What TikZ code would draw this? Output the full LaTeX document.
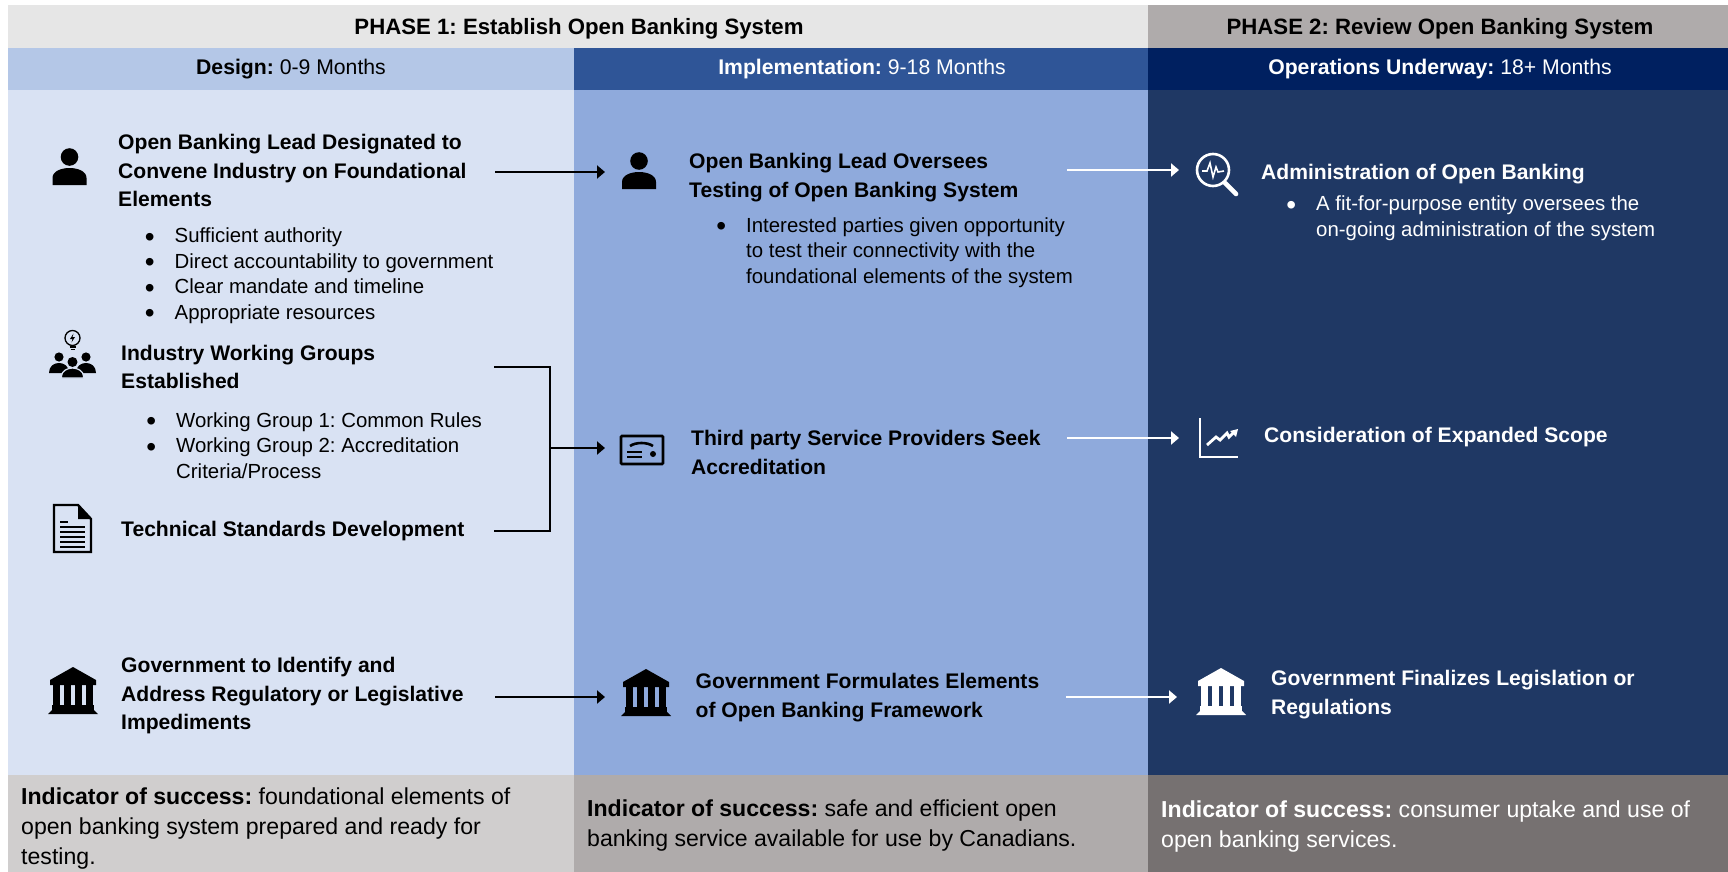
\documentclass[tikz,border=0pt]{standalone}
\usepackage{fontspec}
\setmainfont{Liberation Sans}
\usetikzlibrary{arrows.meta}
\definecolor{phaseone}{HTML}{E6E6E6}
\definecolor{phasetwo}{HTML}{AFABAB}
\definecolor{designhead}{HTML}{B4C7E7}
\definecolor{implhead}{HTML}{2F5597}
\definecolor{opshead}{HTML}{002060}
\definecolor{designbody}{HTML}{D9E2F3}
\definecolor{implbody}{HTML}{8FAADC}
\definecolor{opsbody}{HTML}{1F3864}
\definecolor{designfoot}{HTML}{D0CECE}
\definecolor{implfoot}{HTML}{AFABAB}
\definecolor{opsfoot}{HTML}{767171}
\frenchspacing
\newcommand{\itemdot}{\llap{\raisebox{-3.5pt}{\fontsize{28}{28}\selectfont\textbullet}\hspace{20pt}}}
\tikzset{
    phasetext/.style={anchor=base, inner sep=0pt, font=\fontsize{22.2}{25}\selectfont\bfseries},
    stagetext/.style={anchor=base, inner sep=0pt, font=\fontsize{21.2}{23}\selectfont},
    headtext/.style={anchor=base west, inner sep=0pt, align=left, font=\fontsize{21.1}{28.5}\selectfont\bfseries},
    listtext/.style={anchor=base west, inner sep=0pt, align=left, font=\fontsize{20.4}{25.5}\selectfont},
    foottext/.style={anchor=base west, inner sep=0pt, align=left, font=\fontsize{23.1}{30}\selectfont},
    iconspot/.style={minimum width=#1, minimum height=4pt, inner sep=0pt, outer sep=0pt},
    blackarrow/.style={draw=black, line width=2.6pt, -{Triangle[length=8pt,width=13pt]}},
    whitearrow/.style={draw=white, line width=2.6pt, -{Triangle[length=8pt,width=13pt]}},
    personicon/.pic={
        \fill (0,9) circle (8.8);
        \fill (-17,37) -- (-17,30) .. controls (-17,23) and (-8,20) .. (0,20)
            .. controls (8,20) and (17,23) .. (17,30) -- (17,37) -- cycle;
    },
    bankicon/.pic={
        \fill (0,0) -- (23,13) -- (23,18) -- (-23,18) -- (-23,13) -- cycle;
        \foreach \cx in {-16.5,-5.5,5.5,16.5} {
            \fill (\cx-3.6,18) rectangle (\cx+3.6,39);
        }
        \fill (-21,38) rectangle (21,43);
        \fill (-25,47) -- (-21,43) -- (21,43) -- (25,47) -- cycle;
    },
    groupicon/.pic={
        \draw[line width=1.3pt] (0,8) circle (7.5);
        \draw[line width=1.3pt] (-3,17) -- (3,17) (-2,19.5) -- (2,19.5);
        \fill (1,3.5) -- (-2.5,9) -- (0,9) -- (-1,12.5) -- (2.5,7) -- (0,7) -- cycle;
        \foreach \sx in {-13.5,13.5} {
            \fill (\sx,27) circle (4.6);
            \fill (\sx-10,43) .. controls (\sx-10,36) and (\sx-5,33) .. (\sx,33)
                .. controls (\sx+5,33) and (\sx+10,36) .. (\sx+10,43) -- cycle;
        }
        \fill (0,32) circle (5);
        \filldraw[draw=designbody, line width=1.2pt] (-11,48) -- (-11,46) .. controls (-11,41) and (-5,38) .. (0,38)
            .. controls (5,38) and (11,41) .. (11,46) -- (11,48) -- cycle;
    },
    docicon/.pic={
        \draw[line width=2.4pt] (0,0) -- (24,0) -- (37,14) -- (37,47) -- (0,47) -- cycle;
        \fill (24,0) -- (37,14) -- (24,14) -- cycle;
        \draw[line width=1.6pt] (6,17) -- (14,17);
        \foreach \ly in {22,27,32,37,42} {
            \draw[line width=1.6pt] (6,\ly) -- (31,\ly);
        }
    },
    certicon/.pic={
        \draw[line width=2.8pt, rounded corners=1pt] (0,0) rectangle (42,28);
        \draw[line width=2.6pt] (9,10) .. controls (15,6) and (26,6) .. (32,10);
        \draw[line width=2pt] (6,16) -- (21,16) (6,20.5) -- (21,20.5);
        \fill (32,18) circle (3);
    },
    magicon/.pic={
        \draw[line width=2.6pt] (0,0) circle (16);
        \draw[line width=1.6pt] (-11,1) -- (-6,1) -- (-3,-7) -- (0,7) -- (3,-3) -- (5,2) -- (11,1);
        \draw[line width=4.6pt, line cap=round] (12,13) -- (23,24);
    },
    charticon/.pic={
        \draw[line width=2.6pt] (0,0) -- (0,39) -- (38,39);
        \draw[line width=2.8pt] (7,27) -- (16,19) -- (20,22) -- (27,15) -- (29,19) -- (34,14);
        \fill (38,11) -- (36,19) -- (30,13) -- cycle;
    },
}
\begin{document}
\begin{tikzpicture}[x=1pt, y=-1pt]
    \useasboundingbox (0,0) rectangle (1728,872);
    % bands
    \fill[phaseone] (8,5) rectangle (1148,48);
    \fill[phasetwo] (1148,5) rectangle (1728,48);
    \fill[designhead] (8,48) rectangle (574,90);
    \fill[implhead] (574,48) rectangle (1148,90);
    \fill[opshead] (1148,48) rectangle (1728,90);
    \fill[designbody] (8,90) rectangle (574,775);
    \fill[implbody] (574,90) rectangle (1148,775);
    \fill[opsbody] (1148,90) rectangle (1728,775);
    \fill[designfoot] (8,775) rectangle (574,872);
    \fill[implfoot] (574,775) rectangle (1148,872);
    \fill[opsfoot] (1148,775) rectangle (1728,872);
    % headers
    \node[phasetext] (phase1) at (579,35) {PHASE 1: Establish Open Banking System};
    \node[phasetext] (phase2) at (1440,35) {PHASE 2: Review Open Banking System};
    \node[stagetext] (design) at (291,75) {\textbf{Design:} 0-9 Months};
    \node[stagetext, text=white] (impl) at (862,75) {\textbf{Implementation:} 9-18 Months};
    \node[stagetext, text=white] (ops) at (1440,75) {\textbf{Operations Underway:} 18+ Months};
    % design column
    \node[headtext] (leaddesign) at (118,206.5) {Open Banking Lead Designated to\\Convene Industry on Foundational\\Elements};
    \node[listtext] (leadlist) at (174.5,319) {\itemdot Sufficient authority\\\itemdot Direct accountability to government\\\itemdot Clear mandate and timeline\\\itemdot Appropriate resources};
    \node[headtext] (groups) at (121,388.5) {Industry Working Groups\\Established};
    \node[listtext] (grouplist) at (176,478) {\itemdot Working Group 1: Common Rules\\\itemdot Working Group 2: Accreditation\\Criteria/Process};
    \node[headtext] (standards) at (121,536) {Technical Standards Development};
    \node[headtext] (govdesign) at (121,729.5) {Government to Identify and\\Address Regulatory or Legislative\\Impediments};
    \pic at (69.5,148) {personicon};
    \pic at (72.5,330) {groupicon};
    \pic at (54,505) {docicon};
    \pic at (73,667) {bankicon};
    % implementation column
    \node[headtext] (leadimpl) at (689,197) {Open Banking Lead Oversees\\Testing of Open Banking System};
    \node[listtext] (impllist) at (746,283) {\itemdot Interested parties given opportunity\\to test their connectivity with the\\foundational elements of the system};
    \node[headtext] (thirdparty) at (691,474) {Third party Service Providers Seek\\Accreditation};
    \node[headtext] (govimpl) at (695.5,717) {Government Formulates Elements\\of Open Banking Framework};
    \node[iconspot=68] (leadicon) at (639,172) {};
    \node[iconspot=74] (certspot) at (642,448) {};
    \node[iconspot=82] (govicon) at (646,697) {};
    \pic at (639,152) {personicon};
    \pic at (621,436) {certicon};
    \pic at (646,669) {bankicon};
    % operations column
    \node[headtext, text=white] (admin) at (1261,179) {Administration of Open Banking};
    \node[listtext, text=white] (adminlist) at (1316,236) {\itemdot A fit-for-purpose entity oversees the\\on-going administration of the system};
    \node[headtext, text=white] (scope) at (1264,442) {Consideration of Expanded Scope};
    \node[headtext, text=white] (govops) at (1271,714) {Government Finalizes Legislation or\\Regulations};
    \node[iconspot=76] (magspot) at (1217,170) {};
    \node[iconspot=80] (chartspot) at (1219,438) {};
    \node[iconspot=88] (finalicon) at (1221,697) {};
    \pic[white] at (1213,170) {magicon};
    \pic[white] at (1200,418) {charticon};
    \pic[white] at (1221,668) {bankicon};
    % indicators
    \node[foottext] (footdesign) at (21,864) {\textbf{Indicator of success:} foundational elements of\\open banking system prepared and ready for\\testing.};
    \node[foottext] (footimpl) at (587,846) {\textbf{Indicator of success:} safe and efficient open\\banking service available for use by Canadians.};
    \node[foottext, text=white] (footops) at (1161,847) {\textbf{Indicator of success:} consumer uptake and use of\\open banking services.};
    % connectors
    \coordinate (leadout) at (495,172);
    \coordinate (govout) at (495,697);
    \coordinate (groupsout) at (494,367);
    \coordinate (standardsout) at (494,531);
    \coordinate (join) at (550,448);
    \coordinate (oversout) at (1067,170);
    \coordinate (certout) at (1067,438);
    \coordinate (formout) at (1066,697);
    \draw[blackarrow] (leadout) -- (leadicon);
    \draw[blackarrow] (govout) -- (govicon);
    \draw[draw=black, line width=2.6pt] (groupsout) -| (join) |- (standardsout);
    \draw[blackarrow] (join) -- (certspot);
    \draw[whitearrow] (oversout) -- (magspot);
    \draw[whitearrow] (certout) -- (chartspot);
    \draw[whitearrow] (formout) -- (finalicon);
\end{tikzpicture}
\end{document}
